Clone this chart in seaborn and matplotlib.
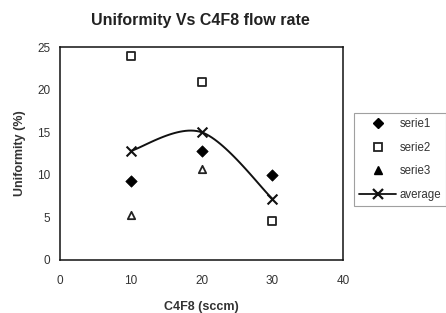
import numpy as np
import pandas as pd
import matplotlib
matplotlib.use("Agg")
import matplotlib.pyplot as plt
import seaborn as sns
from matplotlib.lines import Line2D

flow = [10, 20, 30]
serie1 = [9.3, 12.8, 10.0]
serie2 = [23.9, 20.9, 4.6]
serie3 = [5.3, 10.7, None]
average = [12.8, 15.0, 7.2]
legend_labels = ['serie1', 'serie2', 'serie3', 'average']

sns.set_theme(style="white")
plt.rcParams['font.family'] = ['Liberation Sans', 'DejaVu Sans']

fig = plt.figure(figsize=(4.46, 3.13), dpi=100)
ax = fig.add_axes([60/446, 1-260/313, (343-60)/446, (260-47)/313])

def smooth(xs, ys, n=30):
    xs = np.asarray(xs, float); ys = np.asarray(ys, float)
    px = np.concatenate([[xs[0]], xs, [xs[-1]]])
    py = np.concatenate([[ys[0]], ys, [ys[-1]]])
    outx, outy = [], []
    for i in range(1, len(px) - 2):
        p0 = np.array([px[i-1], py[i-1]]); p1 = np.array([px[i], py[i]])
        p2 = np.array([px[i+1], py[i+1]]); p3 = np.array([px[i+2], py[i+2]])
        c1 = p1 + (p2 - p0) / 6
        c2 = p2 - (p3 - p1) / 6
        t = np.linspace(0, 1, n)[:, None]
        b = (1-t)**3*p1 + 3*(1-t)**2*t*c1 + 3*(1-t)*t**2*c2 + t**3*p2
        outx.extend(b[:, 0]); outy.extend(b[:, 1])
    return outx, outy

sx, sy = smooth(flow, average)
ax.plot(sx, sy, color='#111111', lw=1.4, zorder=2)

df1 = pd.DataFrame({'x': flow, 'y': serie1})
df2 = pd.DataFrame({'x': flow, 'y': serie2})
df3 = pd.DataFrame({'x': flow, 'y': serie3}).dropna()
dfa = pd.DataFrame({'x': flow, 'y': average})

sns.scatterplot(data=df1, x='x', y='y', ax=ax, marker='D', color='black', s=34, edgecolor='black', zorder=3)
sns.scatterplot(data=df2, x='x', y='y', ax=ax, marker='s', facecolor='white', edgecolor='#222222', linewidth=1.3, s=30, zorder=3)
sns.scatterplot(data=df3, x='x', y='y', ax=ax, marker='^', facecolor='white', edgecolor='#222222', linewidth=1.3, s=28, zorder=3)
sns.scatterplot(data=dfa, x='x', y='y', ax=ax, marker='x', color='#111111', linewidth=1.5, s=50, zorder=4)

ax.set_xlim(0, 40)
ax.set_ylim(0, 25)
ax.set_xticks([0, 10, 20, 30, 40])
ax.set_yticks([0, 5, 10, 15, 20, 25])
ax.tick_params(axis='both', labelsize=8.5, length=3, width=0.8, direction='out', color='#666666', labelcolor='#333333', pad=4)
ax.tick_params(axis='x', pad=8)
for s in ax.spines.values():
    s.set_color('#111111'); s.set_linewidth(1.1)
ax.set_xlabel('C4F8 (sccm)', fontsize=9, fontweight='bold', color='#333333', labelpad=10)
ax.set_ylabel('Uniformity (%)', fontsize=9, fontweight='bold', color='#333333', labelpad=8)
fig.text(200/446, 1-21/313, 'Uniformity Vs C4F8 flow rate', ha='center', va='center', fontsize=11.5, fontweight='bold', color='#222222')

handles = [
    Line2D([], [], marker='D', color='black', ls='none', markersize=5.5),
    Line2D([], [], marker='s', markerfacecolor='white', markeredgecolor='#222222', markeredgewidth=1.3, ls='none', markersize=5.5),
    Line2D([], [], marker='^', color='black', ls='none', markersize=6),
    Line2D([], [], marker='x', color='#111111', lw=1.3, markersize=7, markeredgewidth=1.6),
]
leg = fig.legend(handles, legend_labels, loc='upper left',
                 bbox_to_anchor=(354/446, 1-113/313), borderaxespad=0, fontsize=8.3, frameon=True, fancybox=False,
                 handlelength=3.2, handletextpad=0.3, borderpad=0.45, labelspacing=1.0)
leg.get_frame().set_edgecolor('#888888')
leg.get_frame().set_linewidth(0.8)
for t in leg.get_texts():
    t.set_color('#333333')

fig.savefig('out.png', dpi=100)
